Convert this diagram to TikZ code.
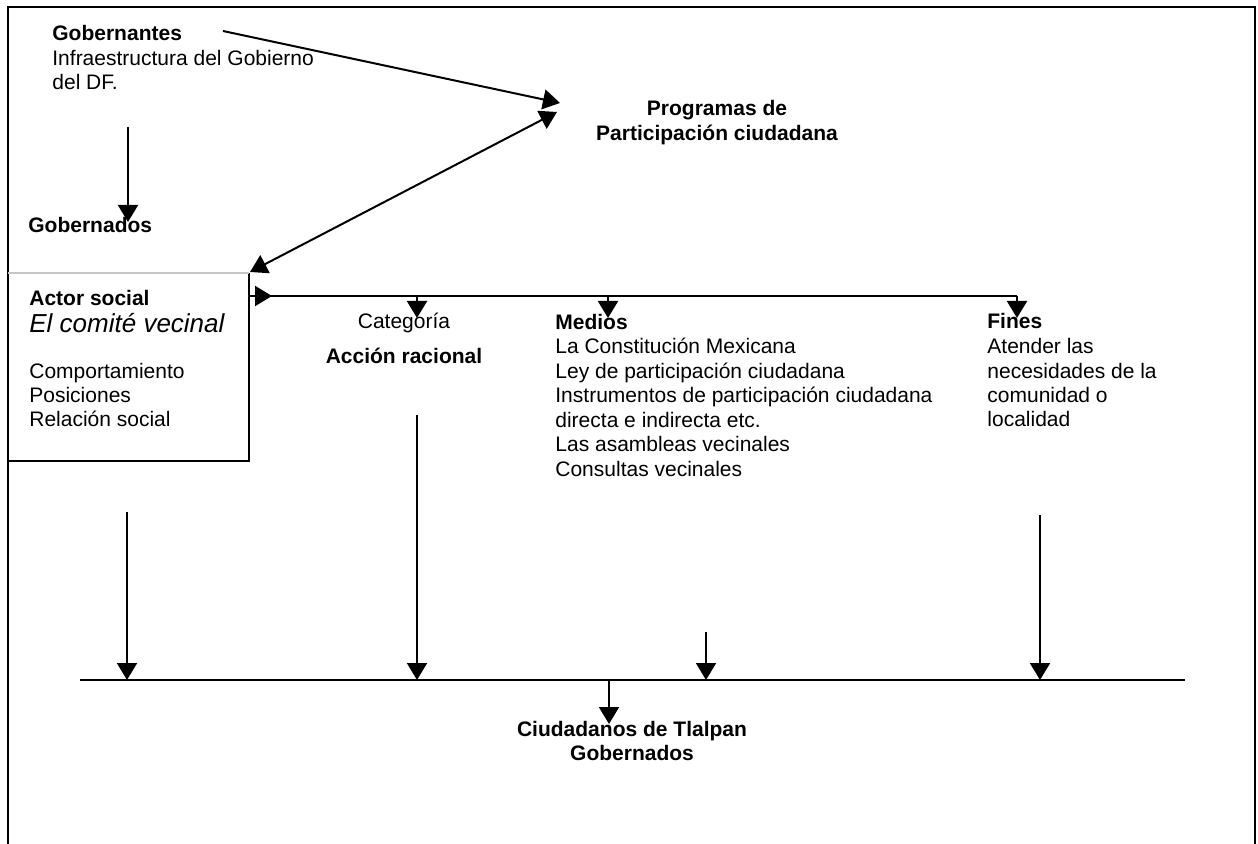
\documentclass[tikz,border=0pt]{standalone}
\usepackage{fontspec}
\setmainfont{Liberation Sans}
\usetikzlibrary{arrows.meta}
\begin{document}
% multi-line texts are placed by the baseline of their last line
\begin{tikzpicture}[x=0.5pt,y=-0.5pt,
  txt/.style={inner sep=0pt, align=left, anchor=base west,
    font=\fontsize{10.5}{12.25}\selectfont},
  btxt/.style={txt, font=\fontsize{10.5}{12.25}\selectfont\bfseries},
  ctxt/.style={inner sep=0pt, align=center, anchor=base,
    font=\fontsize{10.5}{12.25}\selectfont\bfseries},
  rule/.style={line width=1pt},
  tip/.tip={Triangle[width=10pt,length=8.5pt]},
  conn/.style={line width=1pt, -tip},
  biconn/.style={line width=1pt, tip-tip}]
\useasboundingbox (0,0) rectangle (1258,844);

% outer frame (open at the bottom)
\draw[rule] (8,844) -- (8,7) -- (1255,7) -- (1255,844);

% texts
\node[txt] (gobernantes) at (52,90) {\textbf{Gobernantes}\\Infraestructura del Gobierno\\del DF.};
\node[btxt] (gobernados) at (28,233) {Gobernados};
\node[ctxt] (programas) at (717,140.5) {Programas de\\Participación ciudadana};

% actor box
\node[inner sep=0pt, anchor=north west, minimum width=120pt, minimum height=93.5pt] (actor) at (8,273) {};
\draw[rule] (actor.north east) -- (actor.south east) -- (actor.south west);
\draw[gray!45, line width=0.8pt] (actor.north west) -- (actor.north east);
\node[txt] (actortitle) at (29,333) {\textbf{Actor social}\\[1.5pt]{\fontsize{13}{15}\selectfont\itshape El comité vecinal}};
\node[txt] (actorattr) at (29,427) {Comportamiento\\Posiciones\\Relación social};

\node[txt, anchor=base] (categoria) at (404,329) {Categoría};
\node[btxt, anchor=base] (accion) at (404,364) {Acción racional};
\node[txt] (medios) at (555,476) {\textbf{Medios}\\La Constitución Mexicana\\Ley de participación ciudadana\\Instrumentos de participación ciudadana\\directa e indirecta etc.\\Las asambleas vecinales\\Consultas vecinales};
\node[txt] (fines) at (987,427) {\textbf{Fines}\\Atender las\\necesidades de la\\comunidad o\\localidad};
\node[ctxt] (ciudadanos) at (632,760.5) {Ciudadanos de Tlalpan\\Gobernados};

% connector end points
\coordinate (ga) at (223,31);
\coordinate (pa) at (560,103);
\coordinate (pb) at (557,112);
\coordinate (ab) at (250,272);
\coordinate (gd0) at (128,127);
\coordinate (gd1) at (128,222);
\coordinate (h0) at (248,296);
\coordinate (h1) at (1017,296);
\coordinate (hcat) at (417,296);
\coordinate (hmed) at (608,296);
\coordinate (b0) at (80,680);
\coordinate (b1) at (1185,680);

% top connectors
\draw[conn] (ga) -- (pa);
\draw[biconn] (ab) -- (pb);
\draw[conn] (gd0) -- (gd1);

% distribution line from the actor box
\draw[rule] (h0) -- (h1);
\draw[conn] (h0) -- (272,296);
\draw[conn] (hcat) -- (417,318);
\draw[conn] (hmed) -- (608,318);
\draw[conn] (h1) -- (1017,318);

% collecting line
\draw[rule] (b0) -- (b1);
\draw[conn] (127,512) -- (127,680);
\draw[conn] (417,415) -- (417,680);
\draw[conn] (706,632) -- (706,680);
\draw[conn] (1040,515) -- (1040,680);
\draw[conn] (609,680) -- (609,724);
\end{tikzpicture}
\end{document}
